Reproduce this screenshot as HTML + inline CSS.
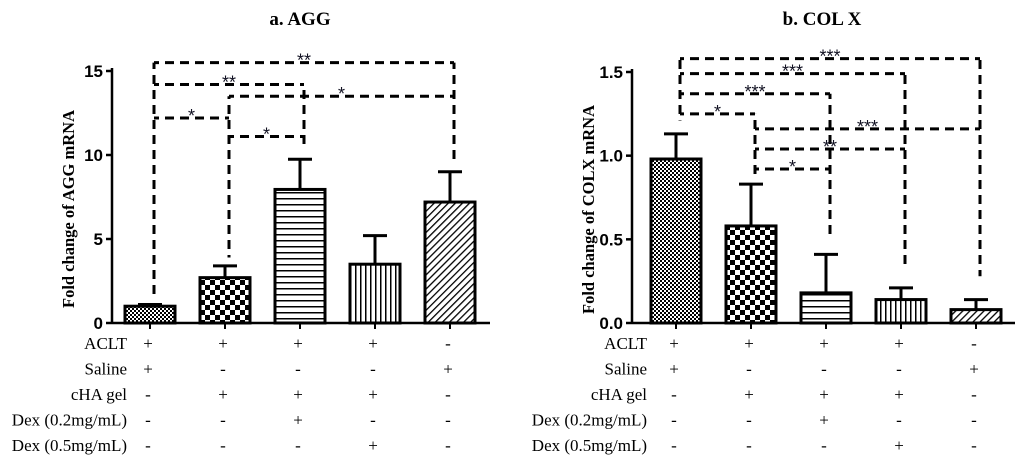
<!DOCTYPE html>
<html><head><meta charset="utf-8"><style>
body{margin:0;background:#fff;}
svg{display:block;font-family:"Liberation Serif",serif;}
</style></head><body>
<svg id="c" width="1024" height="463" viewBox="0 0 1024 463">
<defs>
<pattern id="p0" width="4" height="4" patternUnits="userSpaceOnUse"><rect width="4" height="4" fill="#fff"/><rect width="2" height="2" fill="#000"/><rect x="2" y="2" width="2" height="2" fill="#000"/></pattern>
<pattern id="p1" width="10" height="10" patternUnits="userSpaceOnUse"><rect width="10" height="10" fill="#fff"/><rect width="5" height="5" fill="#000"/><rect x="5" y="5" width="5" height="5" fill="#000"/></pattern>
<pattern id="p2" width="6" height="6" patternUnits="userSpaceOnUse"><rect width="6" height="6" fill="#fff"/><rect width="6" height="1.5" fill="#000"/></pattern>
<pattern id="p3" width="5" height="6" patternUnits="userSpaceOnUse"><rect width="5" height="6" fill="#fff"/><rect width="1.5" height="6" fill="#000"/></pattern>
<pattern id="p4" width="5" height="5" patternUnits="userSpaceOnUse" patternTransform="rotate(45)"><rect width="5" height="5" fill="#fff"/><rect width="1.3" height="5" fill="#000"/></pattern>
</defs>
</svg>
<script>
const categories=["G1","G2","G3","G4","G5"];
const aggValues=[1.0,2.7,7.95,3.5,7.2];
const aggErrors=[0.1,0.7,1.8,1.7,1.8];
const aggTicks=[0,5,10,15];
const colValues=[0.98,0.58,0.18,0.14,0.08];
const colErrors=[0.15,0.25,0.23,0.07,0.06];
const colTicks=[0,0.5,1.0,1.5];
const colTickLabels=["0.0","0.5","1.0","1.5"];
// brackets: [from, to, level, label, leftLegEnd, rightLegEnd]
const aggBrackets=[[0,4,15.5,"**",1.5,9.5],[0,2,14.2,"**",1.5,10.3],[1,4,13.5,"*",3.9,9.5],[0,1,12.2,"*",1.5,3.9],[1,2,11.1,"*",3.9,null]];
const colBrackets=[[0,4,1.58,"***",1.21,0.28],[0,3,1.49,"***",1.21,0.32],[0,2,1.37,"***",1.21,0.52],[0,1,1.25,"*",1.21,0.88],[1,4,1.16,"***",0.88,0.28],[1,3,1.04,"**",0.88,0.32],[1,2,0.92,"*",0.88,0.52]];
const rowLabels=["ACLT","Saline","cHA gel","Dex (0.2mg/mL)","Dex (0.5mg/mL)"];
const signs=[["+","+","+","+","-"],["+","-","-","-","+"],["-","+","+","+","-"],["-","-","+","-","-"],["-","-","-","+","-"]];

const svg=document.getElementById('c');
const NS="http://www.w3.org/2000/svg";
function mk(tag,attrs,parent){const e=document.createElementNS(NS,tag);for(const k in attrs)e.setAttribute(k,attrs[k]);(parent||svg).appendChild(e);return e;}

function drawChart(o){
  const g=mk('g',{});
  
  
  const y=v=>o.y0-(v/o.ymax)*(o.y0-o.ytop);
  const x=i=>o.x0+i*75;
  const t=mk('text',{x:o.titleX,y:25,'text-anchor':'middle','font-size':19,'font-weight':'bold'},g);t.textContent=o.title;
  
  const yt=mk('text',{x:0,y:0,'text-anchor':'middle','font-size':16.5,'font-weight':'bold',transform:`translate(${o.axisX-38},${(o.y0+o.ytop)/2+12}) rotate(-90)`},g);yt.textContent=o.ylabel;
  
  mk('line',{x1:o.axisX,y1:o.ytop-3,x2:o.axisX,y2:o.y0,stroke:'#000','stroke-width':2.5},g);
  mk('line',{x1:o.axisX,y1:o.y0,x2:o.axisEnd,y2:o.y0,stroke:'#000','stroke-width':2.5},g);
  o.ticks.forEach((v,i)=>{
    mk('line',{x1:o.axisX-6,y1:y(v),x2:o.axisX,y2:y(v),stroke:'#000','stroke-width':2.5},g);
    const l=mk('text',{x:o.axisX-9,y:y(v)+6,'text-anchor':'end','font-size':17,'font-weight':'bold','font-family':'Liberation Sans, sans-serif'},g);
    l.textContent=o.tickLabels?o.tickLabels[i]:v;
    
  });
  categories.forEach((c,i)=>{
    mk('line',{x1:x(i),y1:o.y0,x2:x(i),y2:o.y0+6,stroke:'#000','stroke-width':2},g);
    const v=o.values[i],e=o.errors[i];
    mk('line',{x1:x(i),y1:y(v),x2:x(i),y2:y(v+e),stroke:'#000','stroke-width':3},g);
    mk('line',{x1:x(i)-12,y1:y(v+e),x2:x(i)+12,y2:y(v+e),stroke:'#000','stroke-width':3},g);
    const b=mk('rect',{x:x(i)-25,y:y(v),width:50,height:o.y0-y(v),fill:`url(#p${i})`,stroke:'#000','stroke-width':3},g);
    
  });
  o.brackets.forEach(br=>{
    const [a,bb,lv,lab,le,re]=br;
    const base={stroke:'#000','stroke-width':3,'stroke-dasharray':'9,6',fill:'none'};
    const xa=x(a)+4,xb=x(bb)+4,yl=y(lv);
    mk('line',Object.assign({x1:xa,y1:yl,x2:xb,y2:yl,'stroke-dashoffset':(xa%15)},base),g);
    mk('line',Object.assign({x1:xa,y1:yl,x2:xa,y2:y(le),'stroke-dashoffset':(yl%15)},base),g);
    if(re!==null)mk('line',Object.assign({x1:xb,y1:yl,x2:xb,y2:y(re),'stroke-dashoffset':(yl%15)},base),g);
    const st=mk('text',{x:(xa+xb)/2,y:yl+4,'text-anchor':'middle','font-size':18,fill:'#112','font-family':'Liberation Sans, sans-serif'},g);st.textContent=lab;
    
  });
  rowLabels.forEach((r,ri)=>{
    const ry=349+ri*25.5;
    const l=mk('text',{x:o.axisX+15,y:ry,'text-anchor':'end','font-size':17},g);l.textContent=r;
    
    signs[ri].forEach((s,ci)=>{
      const q=mk('text',{x:x(ci)-2,y:ry,'text-anchor':'middle','font-size':17},g);q.textContent=s;
      
    });
  });
}
drawChart({name:'agg-chart',title:'a. AGG',titleX:300,ylabel:'Fold change of AGG mRNA',axisX:112,axisEnd:490,x0:150,y0:323,ytop:71,ymax:15,ticks:aggTicks,values:aggValues,errors:aggErrors,brackets:aggBrackets});
drawChart({name:'colx-chart',title:'b. COL X',titleX:822,ylabel:'Fold change of COLX mRNA',axisX:632,axisEnd:1015,x0:676,y0:323,ytop:72,ymax:1.5,ticks:colTicks,tickLabels:colTickLabels,values:colValues,errors:colErrors,brackets:colBrackets});
</script>
</body></html>
